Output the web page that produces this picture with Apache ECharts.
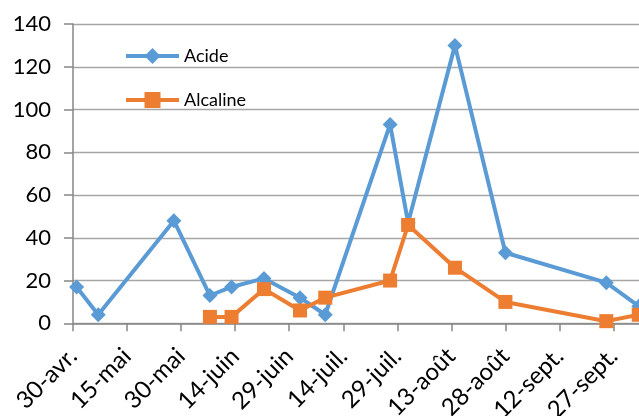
<!DOCTYPE html>
<html>
<head>
<meta charset="utf-8">
<script src="https://cdn.jsdelivr.net/npm/echarts@6/dist/echarts.min.js"></script>
<style>
html,body{margin:0;padding:0;overflow:hidden;background:#fff;width:639px;height:416px;}
#c{position:absolute;left:0;top:0;width:700px;height:416px;}
</style>
</head>
<body>
<div id="c"></div>
<script>
// Data
var startDate = '2015-04-30';
var dates = ['2015-05-01','2015-05-07','2015-05-28','2015-06-07','2015-06-13','2015-06-22','2015-07-02','2015-07-09','2015-07-27','2015-08-01','2015-08-14','2015-08-28','2015-09-25','2015-10-04'];
var acide    = [17, 4, 48, 13, 17, 21, 12, 4, 93, 47, 130, 33, 19, 8];
var alcaline = [null, null, null, 3, 3, 16, 6, 12, 20, 46, 26, 10, 1, 4];
var xTickLabels = ['30-avr.','15-mai','30-mai','14-juin','29-juin','14-juil.','29-juil.','13-août','28-août','12-sept.','27-sept.'];
var yTicks = [0, 20, 40, 60, 80, 100, 120, 140];

function dayOffset(s){
  var p = s.split('-'), q = startDate.split('-');
  return Math.round((Date.UTC(+p[0], +p[1]-1, +p[2]) - Date.UTC(+q[0], +q[1]-1, +q[2])) / 86400000);
}
function pairs(vals){
  return dates.map(function(d, i){ return [dayOffset(d), vals[i]]; });
}

var chart = echarts.init(document.getElementById('c'), null, {renderer: 'canvas'});
var font = 'Lato';
chart.setOption({
  animation: false,
  backgroundColor: '#ffffff',
  grid: {left: 73, right: 0, top: 24, bottom: 92.7, containLabel: false, outerBoundsMode: 'none'},
  legend: {
    orient: 'vertical',
    left: 119,
    top: 41,
    itemWidth: 53,
    itemHeight: 20,
    itemGap: 24,
    lineStyle: {width: 4},
    textStyle: {fontFamily: font, fontSize: 18, color: '#000', lineHeight: 20},
    data: ['Acide', 'Alcaline']
  },
  xAxis: {
    type: 'value',
    min: 0,
    max: 174,
    interval: 15,
    splitLine: {show: false},
    axisLine: {show: true, onZero: false, lineStyle: {color: '#868686', width: 1.5}},
    axisTick: {show: true, length: 8, lineStyle: {color: '#868686', width: 1.5}},
    axisLabel: {
      rotate: 45,
      margin: 29,
      fontFamily: font,
      fontSize: 24,
      color: '#000',
      showMaxLabel: false,
      formatter: function(v){
        if (v % 15 !== 0) return '';
        return xTickLabels[v / 15] || '';
      }
    }
  },
  yAxis: {
    type: 'value',
    min: yTicks[0],
    max: yTicks[yTicks.length - 1],
    interval: 20,
    axisLine: {show: true, lineStyle: {color: '#868686', width: 1.5}},
    axisTick: {show: true, length: 9, lineStyle: {color: '#868686', width: 1.5}},
    splitLine: {show: true, lineStyle: {color: '#a6a6a6', width: 1.4}},
    axisLabel: {margin: 22, fontFamily: font, fontSize: 22, color: '#000'}
  },
  series: [
    {
      name: 'Acide',
      type: 'line',
      data: pairs(acide),
      symbol: 'diamond',
      symbolSize: 15,
      lineStyle: {color: '#5B9BD5', width: 4},
      itemStyle: {color: '#5B9BD5'},
      z: 2
    },
    {
      name: 'Alcaline',
      type: 'line',
      data: pairs(alcaline),
      symbol: 'rect',
      symbolSize: 14,
      lineStyle: {color: '#ED7D31', width: 4},
      itemStyle: {color: '#ED7D31'},
      z: 3
    }
  ]
});
</script>
</body>
</html>
